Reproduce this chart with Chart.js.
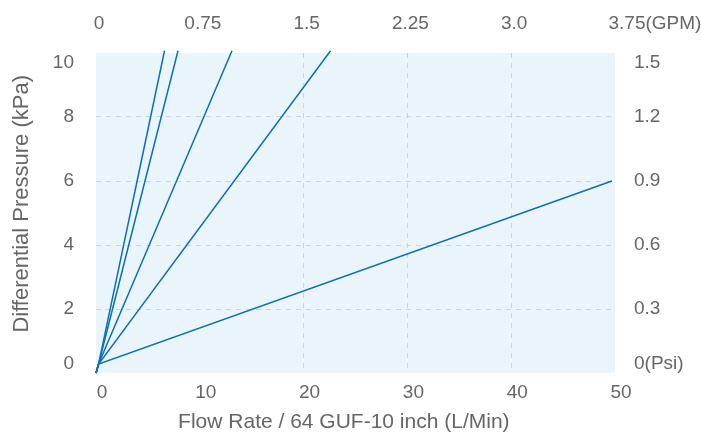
<!DOCTYPE html>
<html>
<head>
<meta charset="utf-8">
<script src="https://cdn.jsdelivr.net/npm/chart.js@4"></script>
<style>
  html, body { margin: 0; padding: 0; background: #fff; }
  #wrap { width: 702px; height: 434px; position: relative; }
</style>
</head>
<body>
<div id="wrap"><canvas id="dpChart"></canvas></div>
<script>
// Axis ticks / labels
const flowTicks = [0, 10, 20, 30, 40, 50];              // L/Min (bottom)
const gpmLabels = ['0', '0.75', '1.5', '2.25', '3.0', '3.75(GPM)']; // top
const kpaTicks = [0, 2, 4, 6, 8, 10];                   // left
const psiLabels = ['0(Psi)', '0.3', '0.6', '0.9', '1.2', '1.5'];   // right

// Curves (flow L/Min -> differential pressure kPa)
const curve1Flow = [0, 0.25, 6.6];
const curve1Dp   = [0, 0.28, 10.07];
const curve2Flow = [0, 0.25, 7.9];
const curve2Dp   = [0, 0.28, 10.07];
const curve3Flow = [0, 0.25, 13.1];
const curve3Dp   = [0, 0.28, 10.07];
const curve4Flow = [0, 0.25, 22.6];
const curve4Dp   = [0, 0.28, 10.07];
const curve5Flow = [0, 0.25, 49.7];
const curve5Dp   = [0, 0.28, 6.0];

const curves = [
    [curve1Flow, curve1Dp],
    [curve2Flow, curve2Dp],
    [curve3Flow, curve3Dp],
    [curve4Flow, curve4Dp],
    [curve5Flow, curve5Dp]
];

const lineColor = '#0a70b8';
const textColor = '#666666';
const gridColor = '#c8d6e0';
const plotBg = '#eaf4fb';

const datasets = curves.map(([xs, ys]) => ({
    data: xs.map((x, i) => ({ x: x, y: ys[i] })),
    showLine: true,
    borderColor: lineColor,
    borderWidth: 1.5,
    pointRadius: 0,
    clip: false
}));

// shift the first/last label inward like the reference
function edgeLabel(text, index, count) {
    if (index === 0) return [text, ''];
    if (index === count - 1) return ['', text];
    return text;
}

// plot background fill
const plotBackground = {
    id: 'plotBackground',
    beforeDraw(chart) {
        const { ctx, chartArea } = chart;
        ctx.save();
        ctx.fillStyle = plotBg;
        ctx.fillRect(chartArea.left, chartArea.top, chartArea.right - chartArea.left, chartArea.bottom - chartArea.top);
        ctx.restore();
    }
};

const tickFont = { family: 'Liberation Sans, Arial, sans-serif', size: 19, lineHeight: 1.0 };
const titleFont = { family: 'Liberation Sans, Arial, sans-serif', size: 21, lineHeight: 1.1 };

function edgeGrid(ctx) {
    const v = ctx.tick ? ctx.tick.value : null;
    if (v === 0 || v === 10 || v === 50) return 'transparent';
    return gridColor;
}

new Chart(document.getElementById('dpChart'), {
    type: 'scatter',
    data: { datasets: datasets },
    plugins: [plotBackground],
    options: {
        responsive: true,
        maintainAspectRatio: false,
        animation: false,
        layout: { padding: 0 },
        plugins: {
            legend: { display: false },
            tooltip: { enabled: false }
        },
        scales: {
            x: {
                type: 'linear',
                position: 'bottom',
                min: 0,
                max: 50,
                afterBuildTicks: (scale) => { scale.ticks = flowTicks.map(v => ({ value: v })); },
                ticks: { color: textColor, font: tickFont, padding: 10, labelOffset: 6, autoSkip: false, maxRotation: 0 },
                grid: { color: edgeGrid, lineWidth: 1, drawTicks: false },
                border: { display: false, dash: [5, 5] },
                title: { display: true, text: 'Flow Rate / 64 GUF-10 inch (L/Min)    ', color: textColor, font: titleFont, padding: { top: 0, bottom: 0 } },
                afterFit: (scale) => { scale.height = 61; scale.paddingLeft = 0; scale.paddingRight = 0; }
            },
            x2: {
                type: 'linear',
                position: 'top',
                min: 0,
                max: 50,
                afterBuildTicks: (scale) => { scale.ticks = flowTicks.map(v => ({ value: v })); },
                ticks: {
                    color: textColor, font: tickFont, padding: 12, labelOffset: 3, autoSkip: false, maxRotation: 0,
                    callback: (v, i) => i === gpmLabels.length - 1 ? '              ' + gpmLabels[i] : gpmLabels[i]
                },
                grid: { display: false },
                border: { display: false },
                afterFit: (scale) => { scale.height = 53; scale.paddingLeft = 0; scale.paddingRight = 0; }
            },
            y: {
                type: 'linear',
                position: 'left',
                min: 0,
                max: 10,
                afterBuildTicks: (scale) => { scale.ticks = kpaTicks.map(v => ({ value: v })); },
                ticks: {
                    color: textColor, font: tickFont, padding: 22,
                    callback: (v, i) => edgeLabel(String(kpaTicks[i]), i, kpaTicks.length)
                },
                grid: { color: edgeGrid, lineWidth: 1, drawTicks: false },
                border: { display: false, dash: [5, 5] },
                title: { display: true, text: '   Differential Pressure (kPa)', color: textColor, font: { family: 'Liberation Sans, Arial, sans-serif', size: 22, lineHeight: 1.1 }, padding: { top: 10, bottom: 0 } },
                afterFit: (scale) => { scale.width = 96; scale.paddingTop = 0; scale.paddingBottom = 0; }
            },
            y2: {
                type: 'linear',
                position: 'right',
                min: 0,
                max: 10,
                afterBuildTicks: (scale) => { scale.ticks = kpaTicks.map(v => ({ value: v })); },
                ticks: {
                    color: textColor, font: tickFont, padding: 11,
                    callback: (v, i) => edgeLabel(psiLabels[i], i, psiLabels.length)
                },
                grid: { display: false },
                border: { display: false },
                afterFit: (scale) => { scale.width = 87; scale.paddingTop = 0; scale.paddingBottom = 0; }
            }
        }
    }
});
</script>
</body>
</html>
